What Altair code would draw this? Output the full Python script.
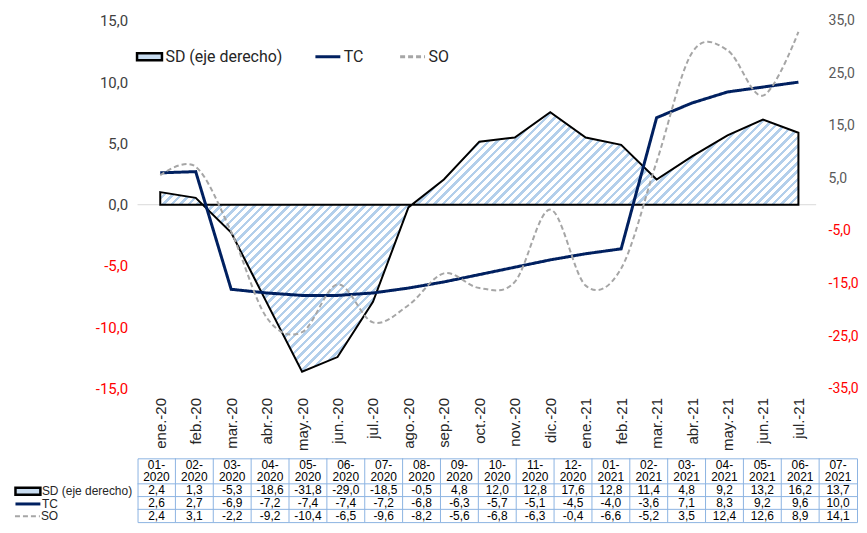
import altair as alt
import pandas as pd

# ---------------- data ----------------
meses = ["ene.-20", "feb.-20", "mar.-20", "abr.-20", "may.-20", "jun.-20", "jul.-20",
         "ago.-20", "sep.-20", "oct.-20", "nov.-20", "dic.-20", "ene.-21", "feb.-21",
         "mar.-21", "abr.-21", "may.-21", "jun.-21", "jul.-21"]
periodos = ["01-2020", "02-2020", "03-2020", "04-2020", "05-2020", "06-2020", "07-2020",
            "08-2020", "09-2020", "10-2020", "11-2020", "12-2020", "01-2021", "02-2021",
            "03-2021", "04-2021", "05-2021", "06-2021", "07-2021"]
series = ["SD (eje derecho)", "TC", "SO"]
sd = [2.4, 1.3, -5.3, -18.6, -31.8, -29.0, -18.5, -0.5, 4.8, 12.0, 12.8, 17.6, 12.8, 11.4,
      4.8, 9.2, 13.2, 16.2, 13.7]
tc = [2.6, 2.7, -6.9, -7.2, -7.4, -7.4, -7.2, -6.8, -6.3, -5.7, -5.1, -4.5, -4.0, -3.6,
      7.1, 8.3, 9.2, 9.6, 10.0]
so = [2.4, 3.1, -2.2, -9.2, -10.4, -6.5, -9.6, -8.2, -5.6, -6.8, -6.3, -0.4, -6.6, -5.2,
      3.5, 12.4, 12.6, 8.9, 14.1]
left_ticks = [-15, -10, -5, 0, 5, 10, 15]
right_ticks = [-35, -25, -15, -5, 5, 15, 25, 35]

# ---------------- style ----------------
SD_FILL = "#c9ddf1"
TC_COLOR = "#002060"
SO_COLOR = "#a6a6a6"
line_series = series[1:]
line_colors = [TC_COLOR, SO_COLOR]
line_dash = [[1, 0], [5, 3]]
PLOT_W = 681
PLOT_H = 369
N = len(meses)
STEP = (PLOT_W - 5) / N
PAD = (PLOT_W - STEP * (N - 1)) / (2 * STEP)
ALIGN = (5 + STEP / 2) / (PLOT_W - STEP * (N - 1))
TAB_W = 722
ROW_H = 12.8
BORDER = "#8db4e2"
RECT_PATH = "M-1,-0.28H1V0.28H-1Z"
TAB_FONT = "Liberation Sans"

# hatch-like gradient for the SD area
W = STEP * (N - 1)
H = (max(max(sd), 0) - min(min(sd), 0)) * PLOT_H / 70.0
c = (W + H) / (W * W + H * H)
nstr = int(round((W + H) / 8.5))
stops = []
for k in range(nstr):
    a, b, e = k / nstr, (k + 0.42) / nstr, (k + 1) / nstr
    stops += [{"offset": round(a, 6), "color": "#b3cfeb"},
              {"offset": round(b, 6), "color": "#b3cfeb"},
              {"offset": round(b, 6), "color": "#ffffff"},
              {"offset": round(e, 6), "color": "#ffffff"}]
hatch = {"gradient": "linear", "x1": 0, "y1": 0, "x2": c * W, "y2": c * H, "stops": stops}


def fmt(v):
    return f"{v:.1f}".replace(".", ",")


lab_expr = "(datum.value < 0 ? '-' : '') + replace(format(abs(datum.value), '.1f'), '.', ',')"


def leg_fill(x, y, font, size, offset):
    return alt.Legend(orient="none", legendX=x, legendY=y, title=None,
                      symbolType=RECT_PATH, symbolSize=625, symbolStrokeColor="#000000",
                      symbolStrokeWidth=2.5, symbolOpacity=1, labelFont=font,
                      labelFontSize=size, labelColor="#262626", labelOffset=offset)


def leg_line(x, y, font, size, offset, width=3, **kw):
    return alt.Legend(orient="none", legendX=x, legendY=y, title=None, direction="horizontal",
                      symbolType="stroke", symbolSize=625, symbolStrokeWidth=width,
                      symbolOpacity=1, labelFont=font, labelFontSize=size,
                      labelColor="#262626", labelOffset=offset, **kw)


# ---------------- chart ----------------
largo = pd.DataFrame({
    "mes": meses * 3,
    "serie": [series[0]] * N + [series[1]] * N + [series[2]] * N,
    "valor": sd + tc + so,
})

xscale = alt.Scale(type="point", padding=PAD, align=ALIGN)
x_ax = alt.Axis(labelAngle=-90, domain=False, ticks=False, grid=False,
                labelFont="Liberation Sans", labelFontSize=15,
                labelColor="#262626", labelPadding=9)
x_enc = alt.X("mes:N", sort=meses, scale=xscale, title=None, axis=x_ax)

rscale = alt.Scale(domain=[-35, 35], nice=False, zero=False)
lscale = alt.Scale(domain=[-15, 15], nice=False, zero=False)
r_ax = alt.Axis(orient="right", values=right_ticks, labelExpr=lab_expr,
                domain=False, ticks=False, grid=False, labelFont="Roboto",
                labelFontSize=14, labelPadding=12,
                labelColor={"condition": {"test": "datum.value < 0", "value": "#ff0000"},
                            "value": "#595959"})
l_ax = alt.Axis(orient="left", values=left_ticks, labelExpr=lab_expr,
                domain=False, ticks=False, grid=False, labelFont="Roboto",
                labelFontSize=15, labelPadding=10,
                labelColor={"condition": {"test": "datum.value < 0", "value": "#ff0000"},
                            "value": "#404040"})

base = alt.Chart(largo)
uno = pd.DataFrame({"mes": [meses[0]], "valor": [0], "serie": [series[0]]})
ry = alt.Y("valor:Q", scale=rscale, title=None, axis=r_ax)
ly = alt.Y("valor:Q", scale=lscale, title=None, axis=l_ax)

zero_rule = alt.Chart(uno).mark_rule(color="#d9d9d9", strokeWidth=1).encode(y=ry)

sd_key = alt.Chart(uno).mark_square(opacity=0).encode(
    x=x_enc, y=ry,
    fill=alt.Fill("serie:N", scale=alt.Scale(domain=[series[0]], range=[SD_FILL]),
                  legend=leg_fill(-2, 22, "Roboto", 16, 2)))

area = base.transform_filter(alt.datum.serie == series[0]).mark_area(
    fill=hatch, stroke="#000000", strokeWidth=2, strokeJoin="miter").encode(x=x_enc, y=ry)

top_line_leg = leg_line(177, 22, "Roboto", 16, 2, columnPadding=30)
st_top = alt.Stroke("serie:N", scale=alt.Scale(domain=line_series, range=line_colors),
                    legend=top_line_leg)
sdash_top = alt.StrokeDash("serie:N", scale=alt.Scale(domain=line_series, range=line_dash),
                           legend=top_line_leg)

line_tc = base.transform_filter(alt.datum.serie == "TC").mark_line(strokeWidth=3).encode(
    x=x_enc, y=ly, stroke=st_top, strokeDash=sdash_top)
line_so = base.transform_filter(alt.datum.serie == "SO").mark_line(
    strokeWidth=2, interpolate="cardinal").encode(
    x=x_enc, y=ly, stroke=st_top, strokeDash=sdash_top)

top = alt.layer(
    alt.layer(zero_rule, area, sd_key),
    alt.layer(line_tc, line_so),
).resolve_scale(y="independent").properties(width=PLOT_W, height=PLOT_H)

# ---------------- table ----------------
filas = ["h1", "h2"] + series
rows = []
for p, v1, v2, v3 in zip(periodos, sd, tc, so):
    mm, yy = p.split("-")
    rows.append({"col": p, "fila": "h1", "texto": mm + "-"})
    rows.append({"col": p, "fila": "h2", "texto": yy})
    rows.append({"col": p, "fila": series[0], "texto": fmt(v1)})
    rows.append({"col": p, "fila": series[1], "texto": fmt(v2)})
    rows.append({"col": p, "fila": series[2], "texto": fmt(v3)})
tabla = pd.DataFrame(rows)

tx_scale = alt.Scale(domain=periodos, paddingInner=0, paddingOuter=0)
ty_scale = alt.Scale(domain=filas, paddingInner=0, paddingOuter=0)
tx_none = alt.X("col:N", scale=tx_scale, axis=None)
ty_none = alt.Y("serie:N", scale=ty_scale, axis=None)

textos = alt.Chart(tabla).mark_text(font=TAB_FONT, fontSize=12, color="#000000").encode(
    x=tx_none, y=alt.Y("fila:N", scale=ty_scale, axis=None), text="texto:N")
vlines = alt.Chart(pd.DataFrame({"col": periodos[1:]})).mark_rule(color=BORDER, strokeWidth=1).encode(
    x=alt.X("col:N", scale=tx_scale, axis=None, bandPosition=0))
hlines = alt.Chart(pd.DataFrame({"fila": series})).mark_rule(color=BORDER, strokeWidth=1).encode(
    y=alt.Y("fila:N", scale=ty_scale, axis=None, bandPosition=0))

LX = -124
OFF = 13
key_df = pd.DataFrame({"serie": series, "col": [periodos[0]] * 3})
tab_sd_key = alt.Chart(key_df.iloc[[0]]).mark_square(opacity=0).encode(
    x=tx_none, y=ty_none,
    fill=alt.Fill("serie:N", scale=alt.Scale(domain=[series[0]], range=[SD_FILL]),
                  legend=leg_fill(LX, 2.5 * ROW_H - OFF, TAB_FONT, 12, 0)))
tab_tc_key = alt.Chart(key_df.iloc[[1]]).mark_line(opacity=0).encode(
    x=tx_none, y=ty_none,
    stroke=alt.Stroke("serie:N", scale=alt.Scale(domain=[series[1]], range=[TC_COLOR]),
                      legend=leg_line(LX, 3.5 * ROW_H - OFF, TAB_FONT, 12, 0)))
tab_so_key = alt.Chart(key_df.iloc[[2]]).mark_line(opacity=0, stroke=SO_COLOR).encode(
    x=tx_none, y=ty_none,
    strokeDash=alt.StrokeDash("serie:N", scale=alt.Scale(domain=[series[2]], range=[[5, 3]]),
                              legend=leg_line(LX, 4.5 * ROW_H - OFF, TAB_FONT, 12, 0,
                                              width=2, symbolStrokeColor=SO_COLOR)))

table = alt.layer(vlines, hlines, tab_sd_key, tab_tc_key, tab_so_key, textos).properties(
    width=TAB_W, height=ROW_H * len(filas),
    view=alt.ViewBackground(stroke=BORDER, strokeWidth=1))

chart = alt.vconcat(top, table, spacing=6).resolve_scale(
    stroke="independent", strokeDash="independent", fill="independent").resolve_legend(
    stroke="independent", strokeDash="independent", fill="independent").configure_view(
    stroke=None).properties(padding={"left": 5, "top": 5, "right": 0, "bottom": 0})

chart.save("out.html", embed_options={"renderer": "svg", "actions": False})
